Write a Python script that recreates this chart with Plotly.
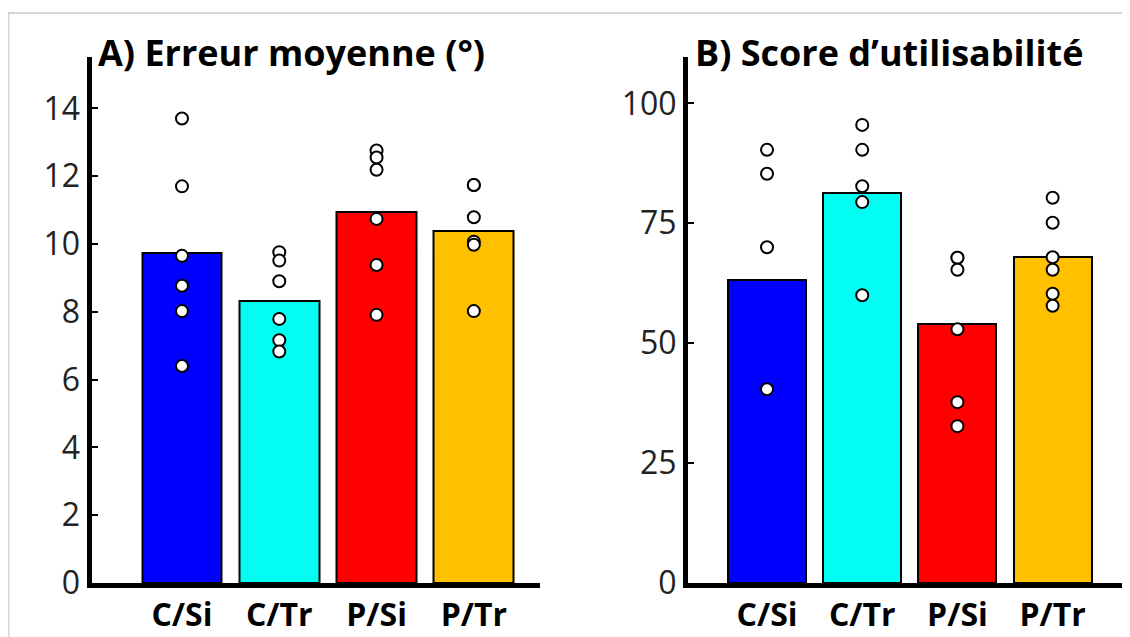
import plotly.graph_objects as go

categories = ["C/Si", "C/Tr", "P/Si", "P/Tr"]
colors = ["#0000FF", "#00FFF2", "#FF0000", "#FFC000"]

# Panel A: Erreur moyenne (°)
error_means = [9.74, 8.33, 10.93, 10.39]
error_points = [
    [13.7, 11.7, 9.65, 8.77, 8.02, 6.4],
    [9.76, 9.51, 8.90, 7.79, 7.16, 6.83],
    [12.76, 12.55, 12.19, 10.74, 9.38, 7.91],
    [11.74, 11.74, 10.79, 10.07, 9.98, 8.02],
]
error_ticks = [0, 2, 4, 6, 8, 10, 12, 14]

# Panel B: Score d'utilisabilité
score_means = [63.1, 81.4, 54.0, 67.9]
score_points = [
    [90.3, 85.3, 70.0, 40.4],
    [95.5, 90.3, 82.7, 79.4, 60.0],
    [67.8, 67.8, 65.3, 52.9, 37.7, 32.7],
    [80.3, 75.1, 67.9, 65.3, 60.3, 57.8],
]
score_ticks = [0, 25, 50, 75, 100]

titles = ["A) Erreur moyenne (°)", "B) Score d\u2019utilisabilité"]

# page has an 8px body margin -> figure drawn 8px in from the corner
W, H = 1122, 629
FONT = "Open Sans"
YTOP, Y0 = 49, 575  # pixel rows of plot top / zero line (figure coords)


def px(x):
    return x / W


def py(y):
    return (Y0 - y) / (Y0 - YTOP)


fig = go.Figure()
xi = list(range(len(categories)))


def add_panel(means, points, xa, ya):
    fig.add_trace(go.Bar(
        x=xi, y=means, width=0.82,
        marker=dict(color=colors, line=dict(color="black", width=2)),
        xaxis=xa, yaxis=ya, showlegend=False, hoverinfo="skip"))
    sx, sy = [], []
    for i, pts in enumerate(points):
        for v in pts:
            sx.append(i)
            sy.append(v)
    fig.add_trace(go.Scatter(
        x=sx, y=sy, mode="markers",
        marker=dict(size=12, color="white", line=dict(color="black", width=2)),
        xaxis=xa, yaxis=ya, showlegend=False, cliponaxis=False))


add_panel(error_means, error_points, "x", "y")
add_panel(score_means, score_points, "x2", "y2")

common_x = dict(
    tickmode="array", tickvals=xi, ticktext=categories,
    tickfont=dict(family=FONT, size=32, color="black", weight="bold"),
    showline=True, linecolor="black", linewidth=5,
    ticks="", showgrid=False, zeroline=False, fixedrange=True, automargin=False,
)
common_y = dict(
    showline=True, linecolor="black", linewidth=5,
    ticks="inside", ticklen=6, tickwidth=2, tickcolor="black",
    tickfont=dict(family=FONT, size=32, color="#222222"),
    showgrid=False, zeroline=False, fixedrange=True, automargin=False,
)

fig.update_layout(
    width=W, height=H,
    margin=dict(l=0, r=0, t=YTOP, b=H - Y0, pad=0),
    plot_bgcolor="rgba(0,0,0,0)", paper_bgcolor="white",
    bargap=0,
    xaxis=dict(domain=[px(83.5), px(532)], range=[-0.93, 3.68], anchor="y", **common_x),
    yaxis=dict(domain=[0, 1], range=[0, (Y0 - YTOP) / 33.9], tickvals=error_ticks,
               anchor="x", **common_y),
    xaxis2=dict(domain=[px(680), px(1117)], range=[-0.83, 3.76], anchor="y2", **common_x),
    yaxis2=dict(domain=[0, 1], range=[0, (Y0 - YTOP) / 4.797], tickvals=score_ticks,
                anchor="x2", **common_y),
)

fig.add_annotation(text=titles[0], xref="paper", yref="paper",
                   x=px(88), y=py(44), xanchor="left", yanchor="middle",
                   showarrow=False,
                   font=dict(family=FONT, size=36, color="black", weight="bold"))
fig.add_annotation(text=titles[1], xref="paper", yref="paper",
                   x=px(685), y=py(44), xanchor="left", yanchor="middle",
                   showarrow=False,
                   font=dict(family=FONT, size=36, color="black", weight="bold"))

# light scan frame (top and left edges)
fig.add_shape(type="line", xref="paper", yref="paper", layer="below",
              x0=px(0), x1=px(W), y0=py(5), y1=py(5),
              line=dict(color="#d6d6d6", width=2))
fig.add_shape(type="line", xref="paper", yref="paper", layer="below",
              x0=px(0.5), x1=px(0.5), y0=py(5), y1=py(H),
              line=dict(color="#d6d6d6", width=2))

fig.write_html("out.html")
